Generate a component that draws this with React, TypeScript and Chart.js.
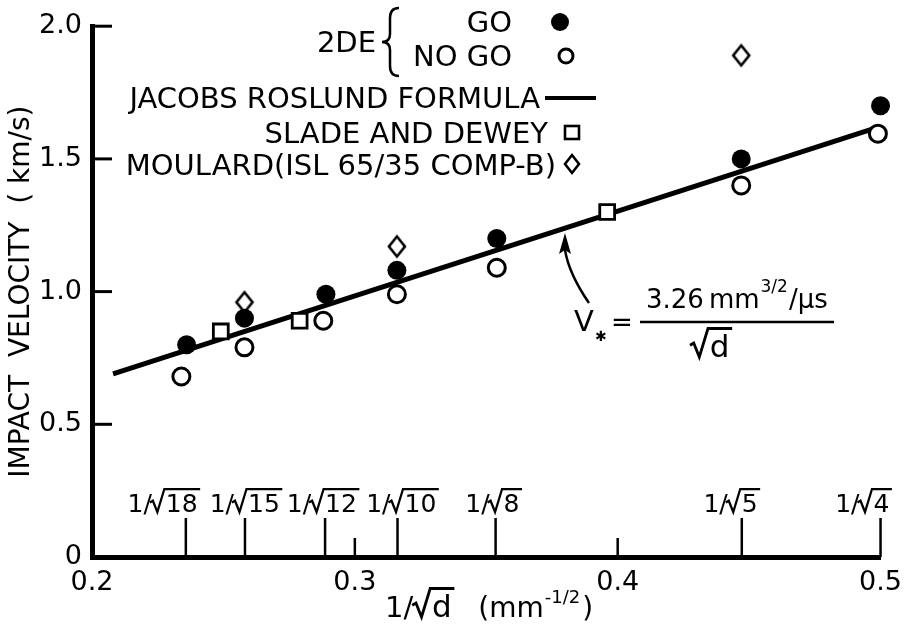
import React, { useEffect, useRef } from "react";
import { Chart, registerables } from "chart.js";
Chart.register(...registerables);

const FONT = '"DejaVu Sans", sans-serif';

// ---- data ----
const goX = [0.236, 0.258, 0.289, 0.316, 0.354, 0.447, 0.5];
const goY = [0.8, 0.9, 0.99, 1.08, 1.2, 1.5, 1.7];
const noGoX = [0.234, 0.258, 0.288, 0.316, 0.354, 0.447, 0.499];
const noGoY = [0.68, 0.79, 0.89, 0.99, 1.09, 1.4, 1.595];
const sladeX = [0.249, 0.279, 0.396];
const sladeY = [0.85, 0.89, 1.3];
const moulardX = [0.258, 0.316, 0.447];
const moulardY = [0.96, 1.17, 1.89];
const formulaX = [0.208, 0.4977];
const formulaY = [0.69, 1.615];
const xTicks = [0.2, 0.3, 0.4, 0.5];
const yTicks = [0, 0.5, 1.0, 1.5, 2.0];
const diameters = [18, 15, 12, 10, 8, 5, 4];
const diameterLabelShift: Record<number, number> = { 18: -21, 15: 2, 12: -1, 10: 6, 8: -1, 5: -9, 4: -16 };

const pts = (xs: number[], ys: number[]) => xs.map((x, i) => ({ x, y: ys[i] }));

function makeDiamond(): HTMLCanvasElement {
  const c = document.createElement("canvas");
  c.width = 22;
  c.height = 26;
  const g = c.getContext("2d")!;
  g.strokeStyle = "#000";
  g.fillStyle = "#fff";
  g.lineWidth = 2.6;
  g.beginPath();
  g.moveTo(11, 3);
  g.lineTo(19, 13);
  g.lineTo(11, 23);
  g.lineTo(3, 13);
  g.closePath();
  g.fill();
  g.stroke();
  return c;
}

function setFont(ctx: CanvasRenderingContext2D, size: number) {
  ctx.font = `${size}px ${FONT}`;
}

// draws radical sign + text, returns width used
function drawRadical(ctx: CanvasRenderingContext2D, text: string, x: number, base: number, size: number) {
  setFont(ctx, size);
  const tw = ctx.measureText(text).width;
  const top = base - size * 0.92;
  ctx.save();
  ctx.lineWidth = Math.max(1.8, size * 0.09);
  ctx.lineJoin = "miter";
  ctx.beginPath();
  ctx.moveTo(x, base - size * 0.38);
  ctx.lineTo(x + size * 0.12, base - size * 0.45);
  ctx.lineTo(x + size * 0.3, base);
  ctx.lineTo(x + size * 0.58, top);
  ctx.lineTo(x + size * 0.66 + tw + 2, top);
  ctx.stroke();
  ctx.restore();
  ctx.fillText(text, x + size * 0.64, base);
  return size * 0.66 + tw + 2;
}

function drawRootLabel(ctx: CanvasRenderingContext2D, n: string, cx: number, base: number, size: number) {
  setFont(ctx, size);
  const w1 = ctx.measureText("1/").width;
  const wn = ctx.measureText(n).width;
  const total = w1 + size * 0.66 + wn + 2;
  let x = cx - total / 2;
  ctx.textAlign = "left";
  ctx.fillText("1/", x, base);
  x += w1 - 2;
  drawRadical(ctx, n, x, base, size);
}

const overlay = {
  id: "overlay",
  afterDraw(chart: any) {
    const ctx: CanvasRenderingContext2D = chart.ctx;
    const xs = chart.scales.x;
    const ys = chart.scales.y;
    const { left, bottom } = chart.chartArea;
    ctx.save();
    ctx.strokeStyle = "#000";
    ctx.fillStyle = "#000";
    ctx.textBaseline = "alphabetic";
    const line = (x1: number, y1: number, x2: number, y2: number) => {
      ctx.beginPath();
      ctx.moveTo(x1, y1);
      ctx.lineTo(x2, y2);
      ctx.stroke();
    };
    // inward y ticks
    ctx.lineWidth = 3;
    yTicks.forEach((v) => {
      if (v === 0) return;
      const y = ys.getPixelForValue(v);
      line(left, y, left + 20, y);
    });
    // inward x ticks
    ctx.lineWidth = 2.5;
    xTicks.forEach((v) => {
      if (v <= xs.min || v >= xs.max) return;
      const x = xs.getPixelForValue(v);
      line(x, bottom, x, bottom - 19);
    });
    // diameter ticks + labels
    diameters.forEach((d) => {
      const x = xs.getPixelForValue(1 / Math.sqrt(d));
      ctx.lineWidth = 2.5;
      line(x, bottom, x, bottom - 39);
      drawRootLabel(ctx, String(d), x + (diameterLabelShift[d] || 0), bottom - 45, 25);
    });

    // x axis title
    {
      const base = 617;
      let x = 385;
      setFont(ctx, 29);
      ctx.textAlign = "left";
      ctx.fillText("1/", x, base);
      x += ctx.measureText("1/").width - 1;
      x += drawRadical(ctx, "d", x, base, 31);
      x += 24;
      setFont(ctx, 28);
      ctx.fillText("(mm", x, base);
      x += ctx.measureText("(mm").width + 1;
      setFont(ctx, 18);
      ctx.fillText("-1/2", x, base - 14);
      x += ctx.measureText("-1/2").width + 2;
      setFont(ctx, 28);
      ctx.fillText(")", x, base);
    }

    // legend
    {
      ctx.textAlign = "right";
      setFont(ctx, 29);
      ctx.fillText("GO", 512, 32);
      ctx.fillText("NO GO", 512, 66);
      ctx.fillText("2DE", 376, 52);
      ctx.fillText("JACOBS ROSLUND FORMULA", 540, 108);
      ctx.fillText("SLADE AND DEWEY", 548, 143);
      ctx.fillText("MOULARD(ISL 65/35 COMP-B)", 556, 175);
      // brace
      ctx.lineWidth = 2.5;
      ctx.beginPath();
      ctx.moveTo(399, 8);
      ctx.quadraticCurveTo(390, 8, 390, 18);
      ctx.lineTo(390, 34);
      ctx.quadraticCurveTo(390, 42, 382, 42);
      ctx.quadraticCurveTo(390, 42, 390, 50);
      ctx.lineTo(390, 66);
      ctx.quadraticCurveTo(390, 76, 399, 76);
      ctx.stroke();
      // markers
      ctx.beginPath();
      ctx.arc(560, 22, 9, 0, Math.PI * 2);
      ctx.fill();
      ctx.lineWidth = 3;
      ctx.beginPath();
      ctx.arc(566, 56, 7, 0, Math.PI * 2);
      ctx.stroke();
      ctx.lineWidth = 4;
      line(545, 98, 596, 98);
      ctx.lineWidth = 2.6;
      ctx.strokeRect(565, 126, 14, 13);
      ctx.beginPath();
      ctx.moveTo(572, 155);
      ctx.lineTo(579, 164);
      ctx.lineTo(572, 173);
      ctx.lineTo(565, 164);
      ctx.closePath();
      ctx.stroke();
    }

    // formula annotation
    {
      ctx.textAlign = "left";
      setFont(ctx, 29);
      ctx.fillText("V", 574, 331);
      setFont(ctx, 14);
      ctx.fillText("\u2731", 595, 341);
      setFont(ctx, 26);
      ctx.fillText("=", 611, 331);
      ctx.lineWidth = 2.5;
      line(640, 322, 834, 322);
      let x = 646;
      setFont(ctx, 26);
      ctx.fillText("3.26", x, 308);
      x += ctx.measureText("3.26").width + 5;
      ctx.fillText("mm", x, 308);
      x += ctx.measureText("mm").width + 1;
      setFont(ctx, 17);
      ctx.fillText("3/2", x, 292);
      x += ctx.measureText("3/2").width + 1;
      setFont(ctx, 26);
      ctx.fillText("/\u03bcs", x, 308);
      drawRadical(ctx, "d", 690, 357, 31);
      // arrow
      ctx.lineWidth = 2.5;
      ctx.beginPath();
      ctx.moveTo(589, 303);
      ctx.quadraticCurveTo(569, 274, 565, 250);
      ctx.stroke();
      ctx.beginPath();
      ctx.moveTo(565, 233);
      ctx.lineTo(571, 254);
      ctx.lineTo(565, 250);
      ctx.lineTo(559, 254);
      ctx.closePath();
      ctx.fill();
    }
    ctx.restore();
  },
};

export default function App() {
  const ref = useRef<HTMLCanvasElement>(null);
  useEffect(() => {
    const canvas = ref.current!;
    const diamond = makeDiamond();
    const chart = new Chart(canvas, {
      type: "scatter",
      data: {
        datasets: [
          {
            label: "GO",
            data: pts(goX, goY),
            pointStyle: "circle",
            pointRadius: 9.5,
            backgroundColor: "#000",
            borderWidth: 0,
            clip: false,
          },
          {
            label: "NO GO",
            data: pts(noGoX, noGoY),
            pointStyle: "circle",
            pointRadius: 8.5,
            backgroundColor: "#fff",
            borderColor: "#000",
            borderWidth: 3,
            clip: false,
          },
          {
            label: "SLADE AND DEWEY",
            data: pts(sladeX, sladeY),
            pointStyle: "rect",
            pointRadius: 10.5,
            backgroundColor: "#fff",
            borderColor: "#000",
            borderWidth: 2.8,
            clip: false,
          },
          {
            label: "MOULARD",
            data: pts(moulardX, moulardY),
            pointStyle: diamond,
            clip: false,
          },
          {
            label: "JACOBS ROSLUND FORMULA",
            data: pts(formulaX, formulaY),
            showLine: true,
            borderColor: "#000",
            borderWidth: 5,
            pointRadius: 0,
            clip: false,
          },
        ] as any,
      },
      options: {
        responsive: false,
        animation: false,
        devicePixelRatio: 1,
        layout: { padding: { left: 0, right: 23, top: 23, bottom: 0 } },
        plugins: { legend: { display: false }, tooltip: { enabled: false } },
        scales: {
          x: {
            type: "linear",
            min: 0.2,
            max: 0.5,
            afterBuildTicks: (s: any) => {
              s.ticks = xTicks.map((value) => ({ value }));
            },
            afterFit: (s: any) => {
              s.height = 85;
            },
            grid: { display: false, drawTicks: false },
            border: { display: true, color: "#000", width: 5 },
            ticks: {
              color: "#000",
              padding: 10,
              font: { family: FONT, size: 27 },
              callback: (v: any) => Number(v).toFixed(1),
            },
          },
          y: {
            type: "linear",
            min: 0,
            max: 2,
            afterBuildTicks: (s: any) => {
              s.ticks = yTicks.map((value) => ({ value }));
            },
            afterFit: (s: any) => {
              s.width = 92;
            },
            grid: { display: false, drawTicks: false },
            border: { display: true, color: "#000", width: 5 },
            ticks: {
              color: "#000",
              padding: 10,
              font: { family: FONT, size: 27 },
              callback: (v: any) => (Number(v) === 0 ? "0" : Number(v).toFixed(1)),
            },
            title: {
              display: true,
              text: "IMPACT  VELOCITY  ( km/s)",
              color: "#000",
              font: { family: FONT, size: 28, lineHeight: 1 },
              padding: { top: 8, bottom: 0 },
            },
          },
        },
      },
      plugins: [overlay],
    } as any);
    return () => chart.destroy();
  }, []);
  return (
    <div style={{ position: "fixed", left: 0, top: 0, width: 912, height: 642, background: "#fff" }}>
      <canvas ref={ref} width={912} height={642} style={{ display: "block" }} />
    </div>
  );
}
